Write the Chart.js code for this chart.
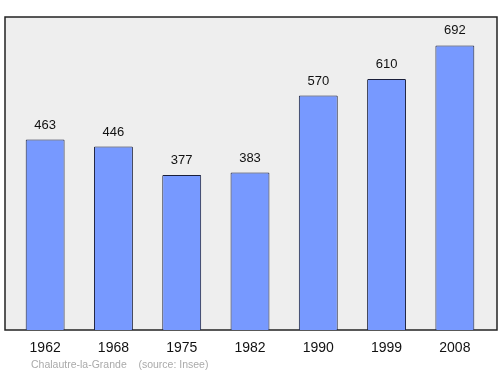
<!DOCTYPE html>
<html>
<head>
<meta charset="utf-8">
<script src="https://cdn.jsdelivr.net/npm/chart.js@4"></script>
<style>
  body { margin: 0; background: #fff; }
  #wrap { width: 500px; height: 374px; }
</style>
</head>
<body>
<div id="wrap"><canvas id="myChart" width="500" height="374"></canvas></div>
<script>
// chart data
const years = ["1962", "1968", "1975", "1982", "1990", "1999", "2008"];
const population = [463, 446, 377, 383, 570, 610, 692];
const footerText = "Chalautre-la-Grande    (source: Insee)";

// grey frame behind the bars, values on top, and the footer line
const decorations = {
   id: "decorations",
   beforeDraw(chart) {
      const ctx = chart.ctx;
      const a = chart.chartArea;
      ctx.save();
      ctx.fillStyle = "#eeeeee";
      ctx.fillRect(5, a.top, 492, a.bottom - a.top);
      ctx.strokeStyle = "#222";
      ctx.lineWidth = 1.5;
      ctx.strokeRect(5, a.top, 492, a.bottom - a.top);
      ctx.restore();
   },
   afterDatasetsDraw(chart) {
      const ctx = chart.ctx;
      ctx.save();
      ctx.font = "13px 'Liberation Sans', Arial, sans-serif";
      ctx.fillStyle = "#111";
      ctx.textAlign = "center";
      ctx.textBaseline = "bottom";
      chart.getDatasetMeta(0).data.forEach((bar, i) => {
         ctx.fillText(population[i], bar.x, bar.y - 8);
      });
      ctx.font = "10.5px 'Liberation Sans', Arial, sans-serif";
      ctx.fillStyle = "#aaaaaa";
      ctx.textAlign = "left";
      ctx.textBaseline = "middle";
      ctx.fillText(footerText, 31, 365);
      ctx.restore();
   }
};

let ctx = document.getElementById("myChart").getContext("2d");
let popChart = new Chart(ctx, {
   type: "bar",
   data: {
      labels: years,
      datasets: [{
         data: population,
         backgroundColor: "#7799ff",
         borderColor: "#1a1f3a",
         borderWidth: 1,
         borderRadius: 1,
         borderSkipped: "bottom",
         barPercentage: 0.57,
         categoryPercentage: 1
      }]
   },
   options: {
      responsive: false,
      animation: false,
      layout: { padding: { left: 11, right: 11, top: 17, bottom: 0 } },
      plugins: { legend: { display: false }, tooltip: { enabled: false } },
      scales: {
         x: {
            grid: { display: false },
            border: { display: false },
            ticks: {
               color: "#111",
               padding: 2,
               font: { family: "'Liberation Sans', Arial, sans-serif", size: 14 }
            },
            afterFit(axis) { axis.height = 44; }
         },
         y: {
            display: false,
            min: 0,
            max: 761
         }
      }
   },
   plugins: [decorations]
});
</script>
</body>
</html>
